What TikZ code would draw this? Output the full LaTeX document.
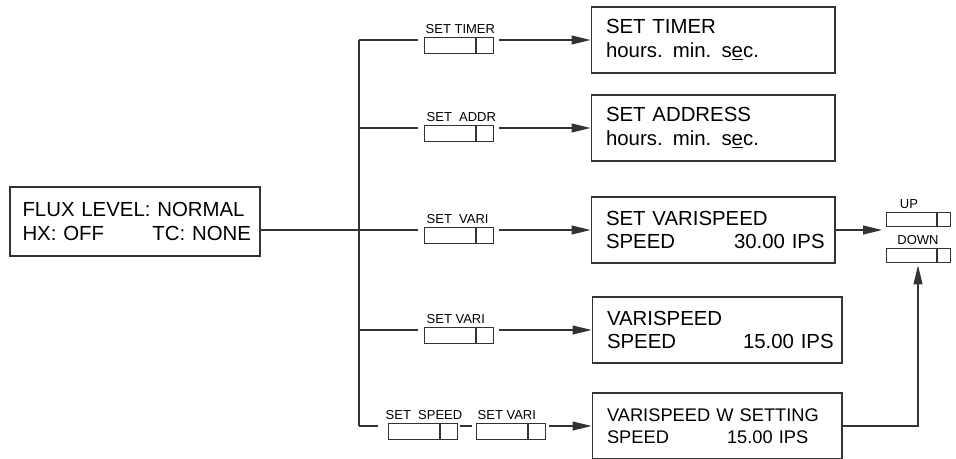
\documentclass[tikz,border=0pt]{standalone}
\usepackage{fontspec}
\setmainfont{Liberation Sans}
\usetikzlibrary{arrows.meta,positioning}

\begin{document}
\begin{tikzpicture}[
    x=0.02cm, y=-0.02cm,
    wire/.style={draw=black!80, line width=0.6pt},
    arr/.style={wire, -{Triangle[length=0.38cm,width=0.18cm]}},
    scrbox/.style={rectangle, draw=black!80, line width=0.6pt, minimum width=4.88cm,
        minimum height=1.32cm, inner xsep=0.3cm, text width=4.28cm, align=left,
        font=\fontsize{11.6}{13.5}\selectfont},
    keybase/.style={rectangle, draw=black!80, line width=0.5pt, inner sep=0pt},
    keybox/.style={keybase, minimum width=1.38cm, minimum height=0.32cm,
        path picture={\draw[black!80, line width=1pt]
            ([xshift=-0.34cm]path picture bounding box.north east) --
            ([xshift=-0.34cm]path picture bounding box.south east);}},
    arrowkey/.style={keybase, minimum width=1.28cm, minimum height=0.28cm,
        path picture={\draw[black!80, line width=1pt]
            ([xshift=-0.26cm]path picture bounding box.north east) --
            ([xshift=-0.26cm]path picture bounding box.south east);}},
    keylabel/.style={inner sep=1pt, font=\fontsize{7.4}{8}\selectfont}
]
\useasboundingbox (0,0) rectangle (956,459);

% status display
\node[scrbox, minimum width=5cm, minimum height=1.38cm, inner xsep=0.25cm, text width=4.5cm]
    (status) at (135,221.5) {FLUX LEVEL: NORMAL\\\makebox[2.6cm][l]{HX:~OFF}TC:~NONE};

% bus junctions
\coordinate (j1) at (359,40);
\coordinate (j2) at (359,128);
\coordinate (j3) at (359,230);
\coordinate (j4) at (359,330);
\coordinate (j5) at (359,426);

% result displays
\node[scrbox] (b1) at (713,40) {SET TIMER\\hours. min. s\underline{e}c.};
\node[scrbox] (b2) at (713,128) {SET ADDRESS\\hours. min. s\underline{e}c.};
\node[scrbox] (b3) at (713,230) {SET VARISPEED\\\makebox[2.56cm][l]{SPEED}30.00~IPS};
\node[scrbox, minimum width=5cm, text width=4.4cm] (b4) at (717,330)
    {VARISPEED\\\makebox[2.72cm][l]{SPEED}15.00~IPS};
\node[scrbox, minimum width=5cm, text width=4.4cm, font=\fontsize{10.4}{12.5}\selectfont] (b5) at (717,426)
    {VARISPEED W SETTING\\\makebox[2.4cm][l]{SPEED}15.00~IPS};

% keys
\node[keybox] (k1) at (458.5,45.5) {};
\node[keybox] (k2) at (458.5,133.5) {};
\node[keybox] (k3) at (458.5,235.5) {};
\node[keybox] (k4) at (458.5,335.5) {};
\node[keybox] (ks) at (422.5,431.5) {};
\node[keybox] (kv) at (510.5,431.5) {};
\node[arrowkey] (ku) at (918,219) {};
\node[arrowkey] (kd) at (918,255) {};

\node[keylabel, above right=0.02cm and 0cm of k1.north west] {SET TIMER};
\node[keylabel, above right=0.02cm and 0.02cm of k2.north west] {SET\ \ ADDR};
\node[keylabel, above right=0.02cm and 0.02cm of k3.north west] {SET\ \ VARI};
\node[keylabel, above right=0.02cm and 0.02cm of k4.north west] {SET VARI};
\node[keylabel, above right=0.02cm and -0.08cm of ks.north west] {SET\ \ SPEED};
\node[keylabel, above right=0.02cm and 0cm of kv.north west] {SET VARI};
\node[keylabel, above=0.02cm of ku.north, xshift=-0.18cm] {UP};
\node[keylabel, above=0.02cm of kd.north] {DOWN};

\coordinate (ud) at (882,233);

% connectors
\draw[wire] (status.east |- j3) -- (j3);
\draw[wire] (j1) -- (j5);
\foreach \i in {1,...,4} {
    \draw[wire, shorten >=0.12cm] (j\i) -- (j\i -| k\i.west);
    \draw[arr, shorten <=0.12cm] (k\i.east |- b\i.west) -- (b\i.west);
}
\draw[wire, shorten >=0.2cm] (j5) -- (j5 -| ks.west);
\draw[wire, shorten <=0.06cm, shorten >=0.08cm] (ks.east |- j5) -- (kv.west |- j5);
\draw[arr, shorten <=0.08cm] (kv.east |- b5.west) -- (b5.west);
\draw[arr] (b3.east) -- (ud |- b3.east);
\draw[arr, shorten >=0.06cm] (b5.east) -| (kd.south);
\end{tikzpicture}
\end{document}
